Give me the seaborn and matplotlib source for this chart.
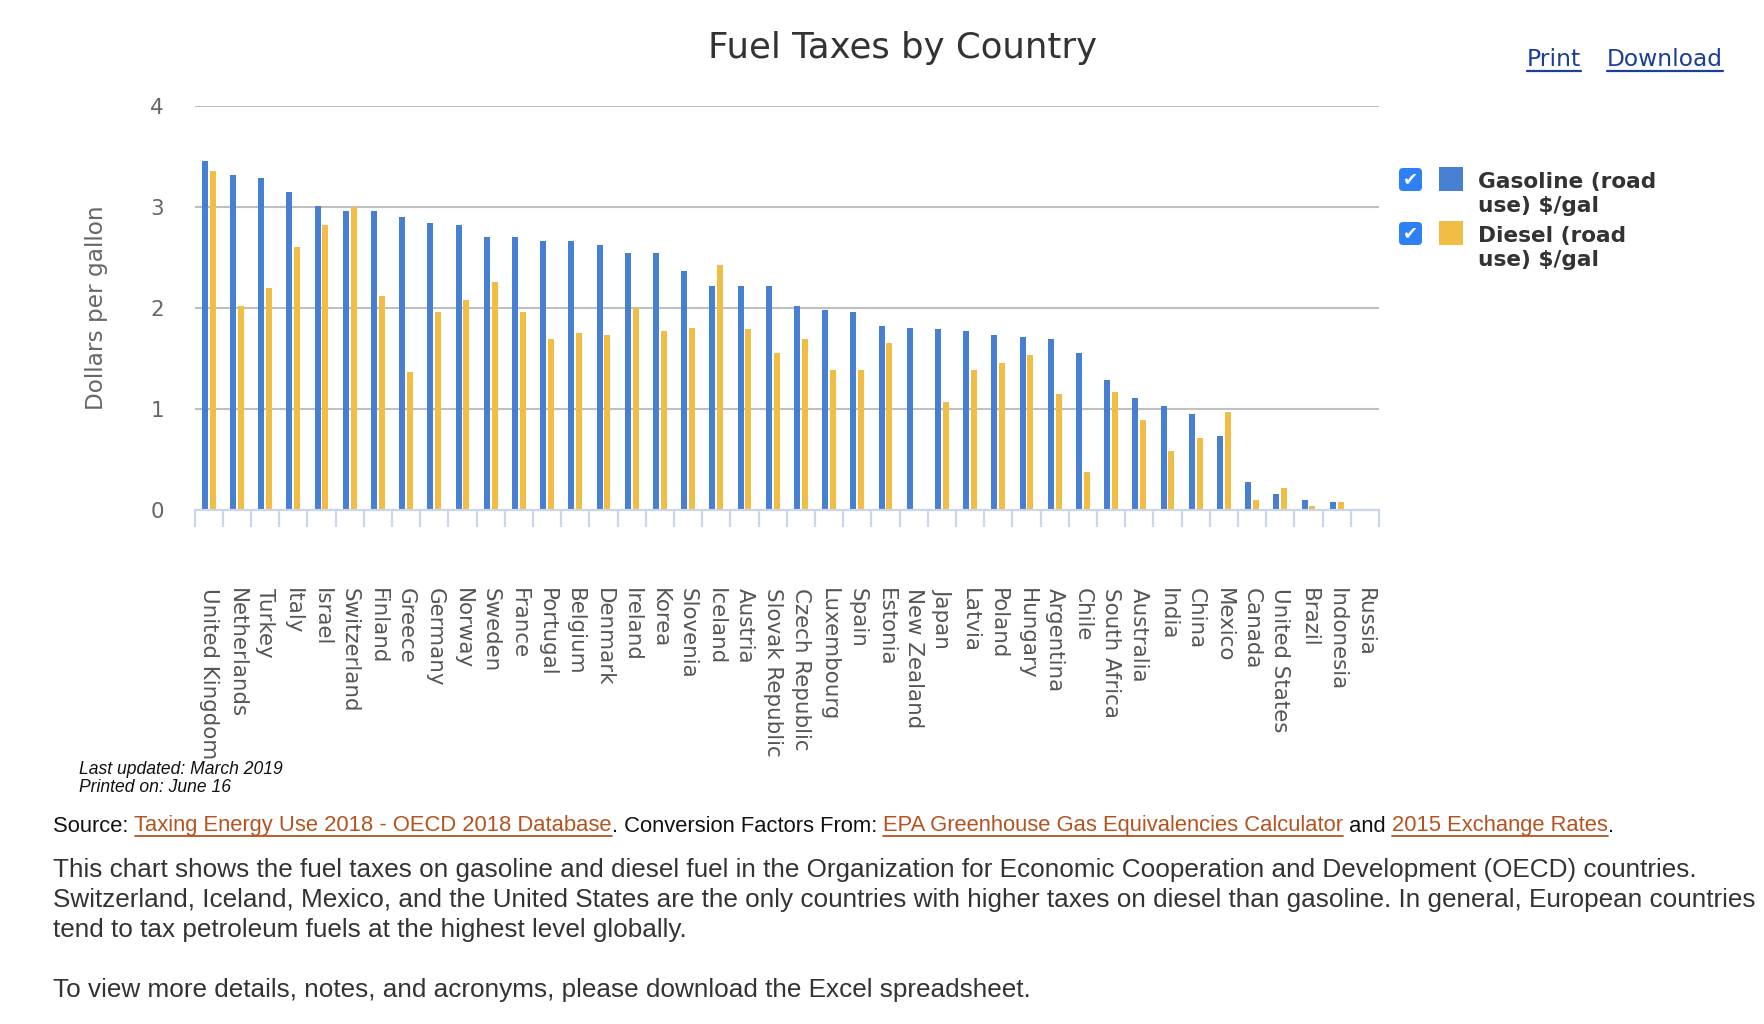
import numpy as np
import pandas as pd
import matplotlib
matplotlib.use("Agg")
import matplotlib.pyplot as plt
import seaborn as sns
from matplotlib.patches import FancyBboxPatch, Rectangle
from matplotlib.lines import Line2D

# ---------------- data ----------------
countries = ["United Kingdom", "Netherlands", "Turkey", "Italy", "Israel", "Switzerland",
             "Finland", "Greece", "Germany", "Norway", "Sweden", "France", "Portugal",
             "Belgium", "Denmark", "Ireland", "Korea", "Slovenia", "Iceland", "Austria",
             "Slovak Republic", "Czech Republic", "Luxembourg", "Spain", "Estonia",
             "New Zealand", "Japan", "Latvia", "Poland", "Hungary", "Argentina", "Chile",
             "South Africa", "Australia", "India", "China", "Mexico", "Canada",
             "United States", "Brazil", "Indonesia", "Russia"]
gasoline = [3.45, 3.31, 3.29, 3.15, 3.01, 2.96, 2.96, 2.90, 2.84, 2.82, 2.70, 2.70, 2.66,
            2.66, 2.62, 2.54, 2.54, 2.36, 2.22, 2.22, 2.22, 2.02, 1.98, 1.96, 1.82, 1.80,
            1.79, 1.77, 1.73, 1.71, 1.69, 1.55, 1.29, 1.11, 1.03, 0.95, 0.73, 0.28, 0.16,
            0.10, 0.08, 0.0]
diesel = [3.35, 2.02, 2.20, 2.60, 2.82, 3.00, 2.12, 1.37, 1.96, 2.08, 2.26, 1.96, 1.69,
          1.75, 1.73, 2.00, 1.77, 1.80, 2.42, 1.79, 1.55, 1.69, 1.39, 1.39, 1.65, 0.0,
          1.07, 1.39, 1.45, 1.53, 1.15, 0.38, 1.17, 0.89, 0.58, 0.71, 0.97, 0.10, 0.22,
          0.04, 0.08, 0.0]
series_names = ["Gasoline (road use) $/gal", "Diesel (road use) $/gal"]
legend_lines = [["Gasoline (road", "use) $/gal"], ["Diesel (road", "use) $/gal"]]
y_ticks = [0, 1, 2, 3, 4]

title = "Fuel Taxes by Country"
y_label = "Dollars per gallon"
note_lines = ["Last updated: March 2019", "Printed on: June 16"]
source_parts = [("Source: ", False), ("Taxing Energy Use 2018 - OECD 2018 Database", True),
                (". Conversion Factors From: ", False),
                ("EPA Greenhouse Gas Equivalencies Calculator", True), (" and ", False),
                ("2015 Exchange Rates", True), (".", False)]
para_lines = [
    "This chart shows the fuel taxes on gasoline and diesel fuel in the Organization for Economic Cooperation and Development (OECD) countries.",
    "Switzerland, Iceland, Mexico, and the United States are the only countries with higher taxes on diesel than gasoline. In general, European countries",
    "tend to tax petroleum fuels at the highest level globally.",
]
last_line = "To view more details, notes, and acronyms, please download the Excel spreadsheet."

BLUE = "#477fd2"
YELLOW = "#f2bd44"
LINK = "#b4531f"
NAVY = "#1c3f94"
TXT = "#333333"

# ---------------- figure ----------------
sns.set_theme(style="white")
plt.rcParams["font.family"] = ["DejaVu Sans"]

W, H = 1764, 1024
fig = plt.figure(figsize=(W / 100, H / 100), dpi=100)
R = fig.canvas.get_renderer()


def text_w(s, size, **kw):
    t = fig.text(0, 0, s, fontsize=size, **kw)
    w = t.get_window_extent(R).width
    t.remove()
    return w


def fit(s, target, **kw):
    return 20 * target / text_w(s, 20, **kw)


def ptext(x, y, s, **kw):
    return fig.text(x / W, 1 - y / H, s, **kw)


# axes
x0, x1, ytop, ybot = 194.6, 1379.0, 105.75, 510.0
ax = fig.add_axes([x0 / W, 1 - ybot / H, (x1 - x0) / W, (ybot - ytop) / H])

n = len(countries)
df = pd.DataFrame({
    "Country": countries * 2,
    "Value": gasoline + diesel,
    "Fuel": [series_names[0]] * n + [series_names[1]] * n,
})
sns.barplot(data=df, x="Country", y="Value", hue="Fuel", order=countries,
            hue_order=series_names, palette=[BLUE, YELLOW], saturation=1,
            width=0.567, gap=0.25, errorbar=None, legend=False, ax=ax,
            linewidth=0, edgecolor="none")

ax.set_xlim(-0.5, n - 0.5)
ax.set_ylim(0, 4)
ax.set_yticks(y_ticks)
ax.set_yticklabels([str(v) for v in y_ticks])
ax.yaxis.grid(True, color="#c0c0c0", linewidth=1.5)
ax.set_axisbelow(True)
for s in ["left", "right", "top"]:
    ax.spines[s].set_visible(False)
ax.spines["bottom"].set_color("#ccd6eb")
ax.spines["bottom"].set_linewidth(1.6)
ax.set_xlabel("")
ax.set_ylabel("")

lab_size = fit("United Kingdom", 172)
ax.set_xticks(range(n))
ax.set_xticklabels(countries, rotation=-90, ha="center", va="top",
                   fontsize=lab_size, color="#555555")
ax.tick_params(axis="x", which="major", length=0, pad=56)
ax.set_xticks(np.arange(-0.5, n, 1.0), minor=True)
ax.tick_params(axis="x", which="minor", length=12, width=1.6, color="#ccd6eb",
               direction="out", bottom=True)
ax.tick_params(axis="y", length=0, pad=22, labelsize=lab_size, labelcolor="#666666")

ylab_size = fit(y_label, 204)
ax.set_ylabel(y_label, fontsize=ylab_size, color="#666666")
ax.yaxis.set_label_coords((108 - x0) / (x1 - x0), 0.5)

# title
ptext(903, 48, title, ha="center", va="center", color=TXT,
      fontsize=fit(title, 388))

# Print / Download links
for s, xa, xb in [("Print", 1527, 1581), ("Download", 1607, 1723)]:
    ptext(xa, 59, s, ha="left", va="center", color=NAVY, fontsize=fit(s, xb - xa))
    fig.add_artist(Line2D([xa, xb], [H - 71, H - 71], transform=None, color=NAVY, lw=1.6))

# legend
leg_size = fit(legend_lines[0][0], 178, weight="bold")
for i, (col, lines) in enumerate(zip([BLUE, YELLOW], legend_lines)):
    top = 167 + i * 54
    cb = FancyBboxPatch((1399, H - (top + 24)), 23, 23,
                        boxstyle="round,pad=0,rounding_size=4", transform=None,
                        facecolor="#2f7ff7", edgecolor="none")
    fig.add_artist(cb)
    fig.text(1410.5 / W, 1 - (top + 12.5) / H, "\u2714", ha="center", va="center",
             color="white", fontsize=13)
    fig.add_artist(Rectangle((1439, H - (top + 24)), 24, 24, transform=None,
                             facecolor=col, edgecolor="none"))
    ptext(1478, top + 15, lines[0], ha="left", va="center", weight="bold",
          color=TXT, fontsize=leg_size)
    ptext(1478, top + 39, lines[1], ha="left", va="center", weight="bold",
          color=TXT, fontsize=leg_size)

# notes
note_size = fit(note_lines[0], 203, family="Liberation Sans", style="italic")
ptext(79, 770, note_lines[0], ha="left", va="center", style="italic",
      family="Liberation Sans", color="#111111", fontsize=note_size)
ptext(79, 788, note_lines[1], ha="left", va="center", style="italic",
      family="Liberation Sans", color="#111111", fontsize=note_size)

# source line
full_src = "".join(p for p, _ in source_parts)
src_size = fit(full_src, 1565, family="Liberation Sans")


def prefix_w(s):
    return text_w(s + "|", src_size, family="Liberation Sans") - text_w("|", src_size, family="Liberation Sans")


prefix = ""
for part, link in source_parts:
    xs = 53 + (prefix_w(prefix) if prefix else 0)
    col = LINK if link else "#111111"
    ptext(xs, 826, part, ha="left", va="center", color=col, family="Liberation Sans",
          fontsize=src_size)
    if link:
        xe = 53 + prefix_w(prefix + part)
        fig.add_artist(Line2D([xs, xe], [H - 836, H - 836], transform=None, color=col, lw=1.3))
    prefix += part

# paragraph
para_size = fit(para_lines[0], 1638, family="Liberation Sans")
for i, line in enumerate(para_lines):
    ptext(53, 870 + 30 * i, line, ha="left", va="center", color=TXT,
          family="Liberation Sans", fontsize=para_size)
ptext(53, 990, last_line, ha="left", va="center", color=TXT,
      family="Liberation Sans", fontsize=para_size)

fig.savefig("out.png", dpi=100, facecolor="white")
